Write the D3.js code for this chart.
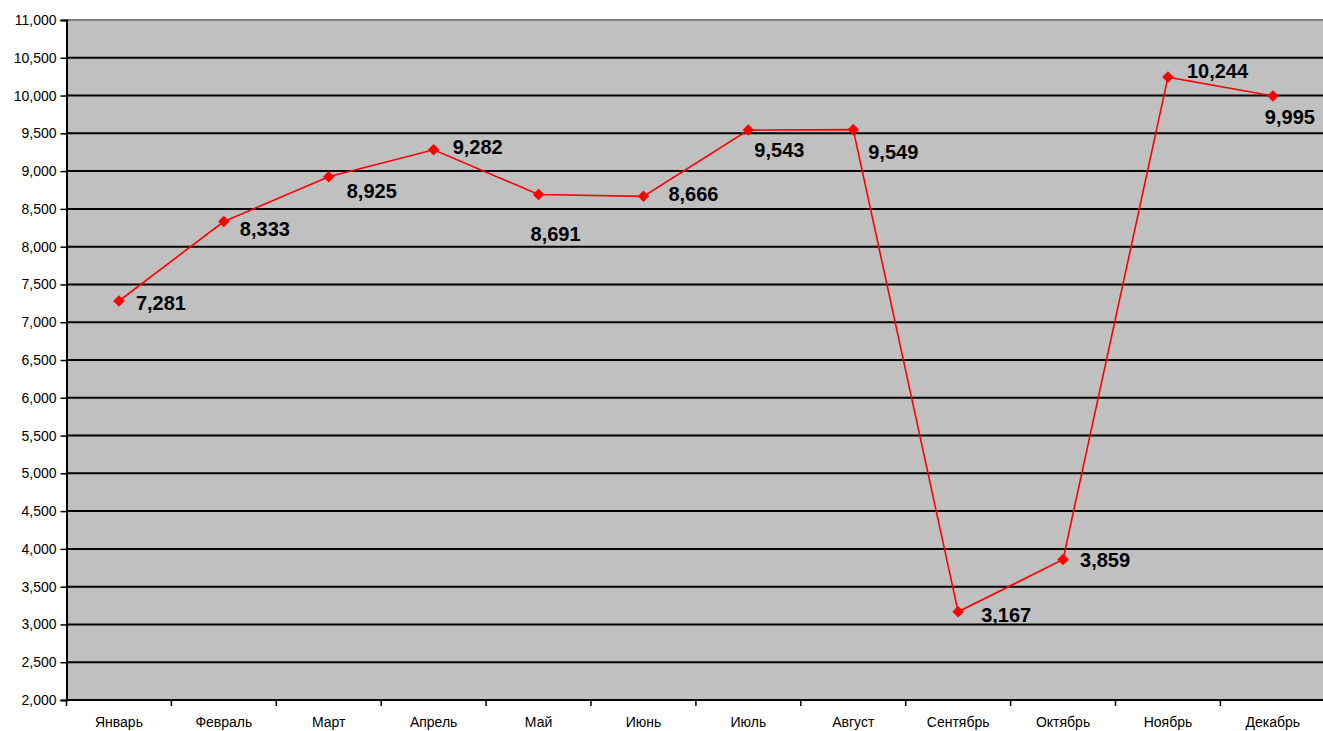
<!DOCTYPE html>
<html>
<head>
<meta charset="utf-8">
<script src="https://cdn.jsdelivr.net/npm/d3@7"></script>
<style>
  html, body { margin: 0; padding: 0; background: #ffffff; }
  svg { display: block; }
  .tick text { font-family: Arial, "Liberation Sans", sans-serif; font-size: 14px; fill: #000; }
</style>
</head>
<body>
<svg id="chart" width="1323" height="731"></svg>
<script>
// Monthly values
const months = ["Январь", "Февраль", "Март", "Апрель", "Май", "Июнь",
                "Июль", "Август", "Сентябрь", "Октябрь", "Ноябрь", "Декабрь"];
const values = [7281, 8333, 8925, 9282, 8691, 8666, 9543, 9549, 3167, 3859, 10244, 9995];
const yTicks = [2000, 2500, 3000, 3500, 4000, 4500, 5000, 5500, 6000, 6500,
                7000, 7500, 8000, 8500, 9000, 9500, 10000, 10500, 11000];

// Where each value label sits relative to its marker (dx, dy in px; anchor start)
const labelOffsets = [
  [17, 2], [16, 7], [18, 14], [19, -3], [-8, 40], [25, -2],
  [6, 20], [15, 22], [23, 3], [17, 0], [19, -6], [-8, 21]
];

const margin = { top: 20, left: 66.5 };
const W = 1323, H = 731;
const bandW = 104.9;
const innerW = bandW * months.length;
const innerH = 680;

const svg = d3.select("#chart");
const g = svg.append("g").attr("transform", `translate(${margin.left},${margin.top})`);

const x = d3.scaleBand().domain(months).range([0, innerW]).padding(0);
const y = d3.scaleLinear().domain([2000, 11000]).range([innerH, 0]);

// Plot area
g.append("rect")
  .attr("x", 0).attr("y", 0)
  .attr("width", innerW).attr("height", innerH)
  .attr("fill", "#c0c0c0");

// Horizontal gridlines
g.append("g")
  .selectAll("line")
  .data(yTicks.filter(v => v > 2000 && v < 11000))
  .join("line")
  .attr("x1", 0).attr("x2", innerW)
  .attr("y1", d => y(d)).attr("y2", d => y(d))
  .attr("stroke", "#000").attr("stroke-width", 2);

// Top border
g.append("line")
  .attr("x1", 0).attr("x2", innerW)
  .attr("y1", 0).attr("y2", 0)
  .attr("stroke", "#808080").attr("stroke-width", 2);

// Y axis
const yAxis = d3.axisLeft(y)
  .tickValues(yTicks)
  .tickSize(6)
  .tickPadding(4)
  .tickFormat(d3.format(","));
const yG = g.append("g").call(yAxis);
yG.select(".domain").attr("stroke", "#000").attr("stroke-width", 2);
yG.selectAll(".tick line").attr("stroke", "#000").attr("stroke-width", 1.5);

// X axis with ticks at band boundaries
const xG = g.append("g").attr("transform", `translate(0,${innerH})`);
xG.append("line")
  .attr("x1", 0).attr("x2", innerW)
  .attr("stroke", "#000").attr("stroke-width", 2);
xG.selectAll("line.btick")
  .data(months)
  .join("line")
  .attr("class", "btick")
  .attr("x1", d => x(d)).attr("x2", d => x(d))
  .attr("y1", 0).attr("y2", 6)
  .attr("stroke", "#000").attr("stroke-width", 1.5);
xG.selectAll("text")
  .data(months)
  .join("text")
  .attr("x", d => x(d) + x.bandwidth() / 2)
  .attr("y", 22)
  .attr("dy", "0.35em")
  .attr("text-anchor", "middle")
  .style("font-family", "Arial, 'Liberation Sans', sans-serif")
  .style("font-size", "14px")
  .text(d => d);

// Series line
const cx = (d, i) => x(months[i]) + x.bandwidth() / 2;
const line = d3.line().x(cx).y(d => y(d));
g.append("path")
  .datum(values)
  .attr("fill", "none")
  .attr("stroke", "#ff0000")
  .attr("stroke-width", 1.6)
  .attr("d", line);

// Diamond markers
g.selectAll("path.marker")
  .data(values)
  .join("path")
  .attr("class", "marker")
  .attr("d", d3.symbol().type(d3.symbolDiamond2).size(85))
  .attr("transform", (d, i) => `translate(${cx(d, i)},${y(d)})`)
  .attr("fill", "#ff0000");

// Value labels
g.selectAll("text.vlabel")
  .data(values)
  .join("text")
  .attr("class", "vlabel")
  .attr("x", (d, i) => cx(d, i) + labelOffsets[i][0])
  .attr("y", (d, i) => y(d) + labelOffsets[i][1])
  .attr("dy", "0.35em")
  .style("font-family", "Arial, 'Liberation Sans', sans-serif")
  .style("font-size", "20px")
  .style("font-weight", "bold")
  .attr("fill", "#000")
  .text(d => d3.format(",")(d));
</script>
</body>
</html>
